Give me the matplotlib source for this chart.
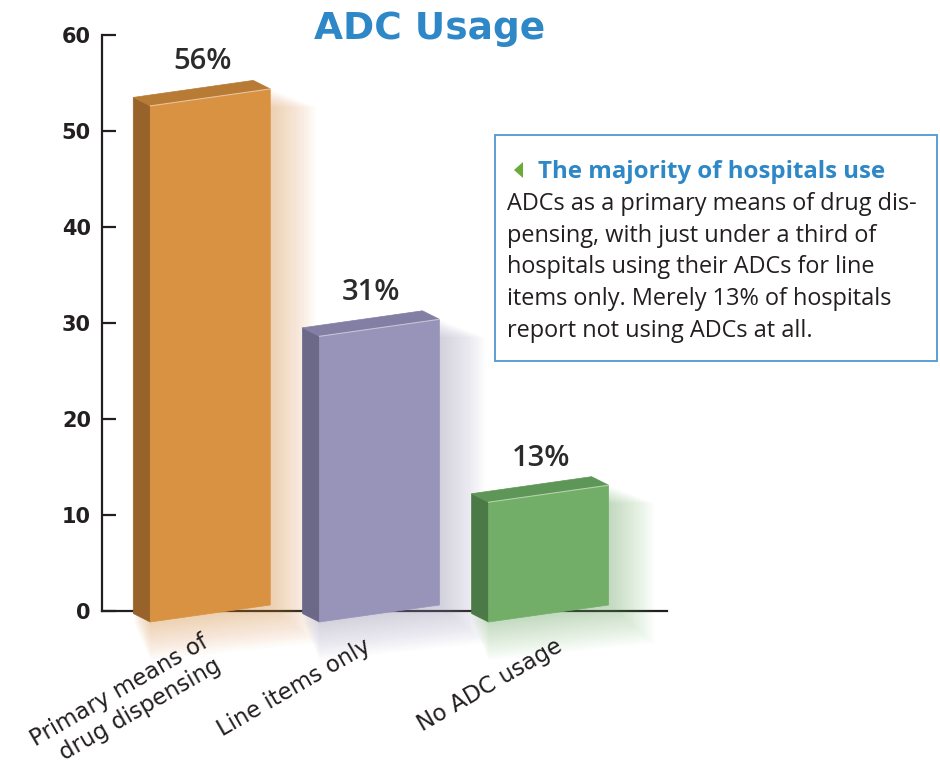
import matplotlib
matplotlib.use("Agg")
import matplotlib.pyplot as plt
from matplotlib.patches import Polygon, Rectangle

# ---- data ----
categories = ["Primary means of\ndrug dispensing", "Line items only", "No ADC usage"]
values = [56, 31, 13]
value_labels = ["56%", "31%", "13%"]
yticks = [0, 10, 20, 30, 40, 50, 60]
title = "ADC Usage"
note_heading = "The majority of hospitals use"
note_lines = [
    "ADCs as a primary means of drug dis-",
    "pensing, with just under a third of",
    "hospitals using their ADCs for line",
    "items only. Merely 13% of hospitals",
    "report not using ADCs at all.",
]

# ---- style ----
front_colors = ["#d99241", "#9893b8", "#72ae68"]
side_colors = ["#98632a", "#6b6888", "#4b7a46"]
top_colors = ["#b77b36", "#827ea4", "#5e9657"]
label_dx_px = [-10, -16, 6]   # nudges of the rotated category labels
label_dy_px = [-20, -24, -24]
dark = "#231f20"
blue = "#2e87c6"

W, H = 940, 770
fig = plt.figure(figsize=(W / 100, H / 100), dpi=100)
ax_l, ax_r, ax_t, ax_b = 102, 667, 35, 611
ax = fig.add_axes([ax_l / W, 1 - ax_b / H, (ax_r - ax_l) / W, (ax_b - ax_t) / H])
x0, x1 = -0.64, 2.70
ax.set_xlim(x0, x1)
ax.set_ylim(0, 60)
px_x = (x1 - x0) / (ax_r - ax_l)
px_y = 60 / (ax_b - ax_t)

persp = 0.96          # perspective shrink of the front face
half_w = 60 * px_x
skew = 8.5 * px_y
depth_x = 17 * px_x
depth_y = 8.5 * px_y
base = -2.5 * px_y
line_step = 26        # px between lines of a rotated label

for i, (v, fc, sc, tc, lab) in enumerate(zip(values, front_colors, side_colors, top_colors, value_labels)):
    c = i
    h = v * persp
    L, R = c - half_w, c + half_w
    bl = (L, base - skew)
    br = (R, base + skew)
    tl = (L, base + h - skew)
    tr = (R, base + h + skew)
    # soft glow / shadow
    for k in range(1, 20):
        ex = k * 1.5 * px_x
        ey = k * 1.5 * px_y
        ox = k * 0.9 * px_x
        oy = -k * 0.5 * px_y
        poly = [
            (L - depth_x + ox, base - skew - ey + oy),
            (R + ex + ox, base + skew - ey + oy),
            (R + ex + ox, base + h + skew - ey * 0.3 + oy),
            (L - depth_x + ox, base + h - skew + depth_y + oy),
        ]
        ax.add_patch(Polygon(poly, closed=True, facecolor=fc, edgecolor="none",
                             alpha=0.024, zorder=1.5, clip_on=False))
    front = [bl, br, tr, tl]
    side = [bl, tl, (L - depth_x, tl[1] + depth_y), (L - depth_x, bl[1] + depth_y)]
    top = [tl, tr, (R - depth_x, tr[1] + depth_y), (L - depth_x, tl[1] + depth_y)]
    for pts, col in ((side, sc), (top, tc), (front, fc)):
        ax.add_patch(Polygon(pts, closed=True, facecolor=col, edgecolor=col, lw=0.5,
                             zorder=3, clip_on=False))
    ax.plot([tl[0], tr[0]], [tl[1], tr[1]], color="white", alpha=0.45, lw=0.8, zorder=3.5,
            clip_on=False)
    ax.text(c - 8 * px_x, base + h + 28 * px_y, lab, ha="center", va="baseline",
            fontsize=21, fontweight="semibold", color="#2b2b2b", family="Open Sans", zorder=4)
    for j, part in enumerate(categories[i].split("\n")):
        ax.text(c + (label_dx_px[i] + j * line_step * 0.5) * px_x,
                (label_dy_px[i] - j * line_step * 0.866) * px_y, part, rotation=30,
                rotation_mode="anchor", ha="right", va="top",
                fontsize=16.4, color=dark, family="DejaVu Sans")

# axes styling
for s in ("top", "right"):
    ax.spines[s].set_visible(False)
for s in ("left", "bottom"):
    ax.spines[s].set_linewidth(1.6)
    ax.spines[s].set_color(dark)
    ax.spines[s].set_zorder(1)
ax.set_xticks([])
ax.set_yticks(yticks)
ax.set_yticklabels([str(t) for t in yticks], fontsize=15, fontweight="bold",
                   color=dark, family="DejaVu Sans")
ax.tick_params(axis="y", direction="in", length=10, width=1.6, color=dark, pad=8)
ax.patch.set_alpha(0)

# title
fig.text(430 / W, 1 - 39 / H, title, ha="center", va="baseline", fontsize=27,
         fontweight="bold", color=blue, family="DejaVu Sans")

# note box
fig.add_artist(Rectangle((495 / W, 1 - 361 / H), (937 - 495) / W, (361 - 135) / H,
                         transform=fig.transFigure, facecolor="white",
                         edgecolor="#4f96cf", lw=1.3, zorder=5))
tri = [(514 / W, 1 - 170 / H), (523 / W, 1 - 162 / H), (523 / W, 1 - 178 / H)]
fig.add_artist(Polygon(tri, closed=True, transform=fig.transFigure,
                       facecolor="#6aab3c", edgecolor="none", zorder=6))
fig.text(538 / W, 1 - 178 / H, note_heading, ha="left", va="baseline", fontsize=17.3,
         fontweight="bold", color=blue, family="Open Sans", zorder=6)
for j, line in enumerate(note_lines):
    fig.text(507 / W, 1 - (210 + j * 31.7) / H, line, ha="left", va="baseline",
             fontsize=16.9, color=dark, family="Open Sans", zorder=6)

fig.savefig("out.png", dpi=100, facecolor="white")
